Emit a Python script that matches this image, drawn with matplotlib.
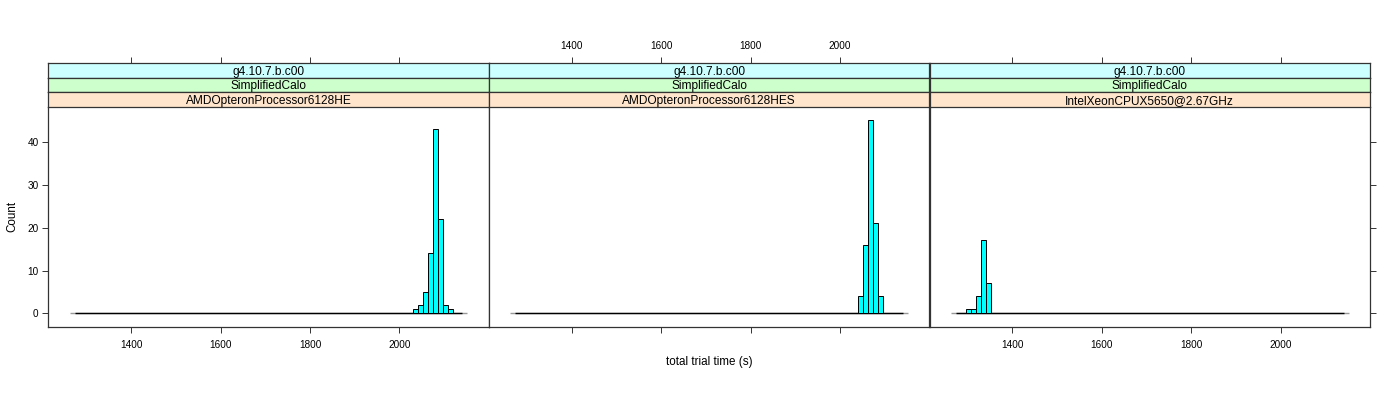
import numpy as np
import matplotlib
matplotlib.use("Agg")
import matplotlib.pyplot as plt

plt.rcParams['font.family'] = ['Liberation Sans', 'DejaVu Sans']

# ---- data ----
panel_strip_top = ["g4.10.7.b.c00", "g4.10.7.b.c00", "g4.10.7.b.c00"]
panel_strip_mid = ["SimplifiedCalo", "SimplifiedCalo", "SimplifiedCalo"]
panel_strip_bot = ["AMDOpteronProcessor6128HE", "AMDOpteronProcessor6128HES",
                   "IntelXeonCPUX5650@2.67GHz"]
bin_start = 1263.0
bin_width = 11.1125
n_bins = 80
first_bin = [69, 70, 3]
counts_nonzero = [
    [1, 2, 5, 14, 43, 22, 2, 1],
    [4, 16, 45, 21, 4],
    [1, 1, 4, 17, 7],
]
x_ticks = [1400, 1600, 1800, 2000]
y_ticks = [0, 10, 20, 30, 40]
xlim = (1214.8, 2200.0)
ylim = (-3.15, 48.15)
xlabel = "total trial time (s)"
ylabel = "Count"

# ---- layout (pixels) ----
W, H = 1400, 400
fig = plt.figure(figsize=(W / 100, H / 100), dpi=100)
panel_x = [48.3, 488.8, 929.5]
panel_w = 440.6
plot_top, plot_bot = 106.7, 327.0
strip_top0, strip_h = 63.3, 14.47
strip_cols = ["#CCFFFF", "#CCFFCC", "#FFE5CC"]
border_col = "#333333"
tick_len = 4.0
fs_tick = 7.2
fs_strip = 8.6
fs_lab = 8.4


def rect(px, py_top, pw, ph):
    return [px / W, 1 - (py_top + ph) / H, pw / W, ph / H]


edges = bin_start + bin_width * np.arange(n_bins + 1)

for i in range(3):
    ax = fig.add_axes(rect(panel_x[i], plot_top, panel_w, plot_bot - plot_top))
    counts = np.zeros(n_bins)
    counts[first_bin[i]:first_bin[i] + len(counts_nonzero[i])] = counts_nonzero[i]
    # baseline (zero-height bins)
    ax.hlines(0, edges[0], edges[-1], color="#999999", lw=1.0, zorder=2)
    ax.hlines(0, edges[1], edges[-2], color="black", lw=1.0, zorder=2)
    nz = counts > 0
    ax.bar(edges[:-1][nz], counts[nz], width=bin_width, align="edge",
           color="#00FFFF", edgecolor="black", linewidth=0.7, zorder=3)
    ax.set_xlim(*xlim)
    ax.set_ylim(*ylim)
    for s in ax.spines.values():
        s.set_color(border_col)
        s.set_linewidth(0.9)
    ax.spines['top'].set_visible(False)
    ax.set_xticks(x_ticks)
    ax.set_yticks(y_ticks)
    ax.tick_params(axis="both", direction="out", length=tick_len, width=0.7,
                   colors=border_col, labelcolor="black", labelsize=fs_tick,
                   pad=3)
    ax.tick_params(axis="x", bottom=True, top=False,
                   labelbottom=(i != 1), labeltop=False, pad=5)
    ax.tick_params(axis="y", left=(i == 0), right=(i == 2),
                   labelleft=(i == 0), labelright=False)
    ax.set_facecolor("white")

    texts = [panel_strip_top[i], panel_strip_mid[i], panel_strip_bot[i]]
    for r in range(3):
        sax = fig.add_axes(rect(panel_x[i], strip_top0 + r * strip_h, panel_w, strip_h))
        sax.set_facecolor(strip_cols[r])
        sax.set_xlim(*xlim)
        sax.set_ylim(0, 1)
        for s in sax.spines.values():
            s.set_color(border_col)
            s.set_linewidth(0.9)
        sax.text(0.5, 0.42, texts[r], transform=sax.transAxes, ha="center",
                 va="center", fontsize=fs_strip, color="black")
        sax.set_yticks([])
        if r == 0:
            sax.set_xticks(x_ticks)
            sax.tick_params(axis="x", direction="out", length=tick_len, width=0.7,
                            colors=border_col, labelcolor="black",
                            labelsize=fs_tick, bottom=False, top=True,
                            labelbottom=False, labeltop=(i == 1), pad=5)
        else:
            sax.set_xticks([])

fig.text((panel_x[0] + 3 * panel_w / 2) / W, 1 - 361.5 / H, xlabel,
         ha="center", va="center", fontsize=fs_lab)
fig.text(12.3 / W, 1 - 216.0 / H, ylabel, ha="center", va="center",
         rotation=90, fontsize=fs_lab)

fig.savefig("out.png", dpi=100, facecolor="white")
